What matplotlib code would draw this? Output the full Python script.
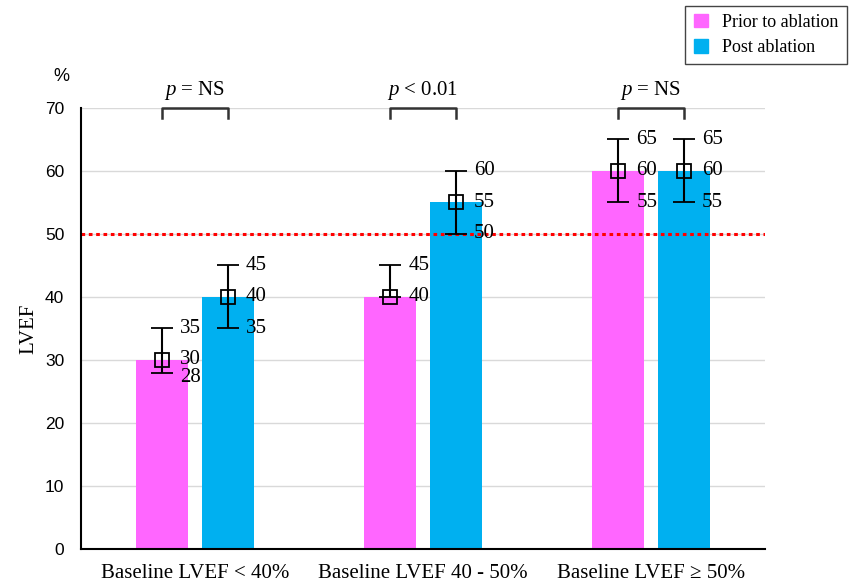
import numpy as np
import matplotlib.pyplot as plt
from matplotlib.patches import Patch

plt.rcParams['font.family'] = ['Liberation Serif', 'DejaVu Serif']
plt.rcParams['mathtext.fontset'] = 'custom'
plt.rcParams['mathtext.it'] = 'Liberation Serif:italic'
plt.rcParams['mathtext.rm'] = 'Liberation Serif'

# data
skupine = ["Baseline LVEF < 40%", "Baseline LVEF 40 - 50%", "Baseline LVEF \u2265 50%"]
pred    = [30, 40, 60]
pred_hi = [35, 45, 65]
pred_lo = [28, 40, 55]
po      = [40, 55, 60]
po_hi   = [45, 60, 65]
po_lo   = [35, 50, 55]
p_vrednosti = ["$p$ = NS", "$p$ < 0.01", "$p$ = NS"]

c_pred = "#FF66FF"
c_po   = "#00B0F0"

fig = plt.figure(figsize=(8.5, 5.83), dpi=100)
ax = fig.add_axes([0.0953, 0.0583, 0.8047, 0.7565])

x = np.arange(len(skupine))
w = 0.228
d = 0.144

ax.bar(x - d, pred, w, color=c_pred, zorder=2)
ax.bar(x + d, po, w, color=c_po, zorder=2)

for xs, v, hi, lo in [(x - d, pred, pred_hi, pred_lo), (x + d, po, po_hi, po_lo)]:
	v = np.array(v); hi = np.array(hi); lo = np.array(lo)
	ax.errorbar(xs, v, yerr=[v - lo, hi - v], fmt="s", mfc="none", mec="black",
		ms=10, mew=1.3, ecolor="black", elinewidth=1.5, capsize=8, capthick=1.5, zorder=3)
	for i in range(len(xs)):
		ax.text(xs[i] + 0.08, v[i], str(v[i]), fontsize=15, va="center", ha="left", zorder=4)
		ax.text(xs[i] + 0.08, hi[i], str(hi[i]), fontsize=15, va="center", ha="left", zorder=4)
		if lo[i] != v[i]:
			# premik, da se oznaki ne prekrivata
			yl = lo[i] - 0.8 if v[i] - lo[i] < 3 else lo[i]
			ax.text(xs[i] + 0.08, yl, str(lo[i]), fontsize=15, va="center", ha="left", zorder=4)

# referencna crta 50 %
ax.axhline(50, color="#FF0000", ls=(0, (1.2, 1.2)), lw=2.2, zorder=2.5)

# oklepaji s p-vrednostmi
for i in range(len(skupine)):
	ax.plot([x[i] - d, x[i] - d, x[i] + d, x[i] + d], [68.4, 70, 70, 68.4],
		color="#333333", lw=1.8, clip_on=False, zorder=4)
	ax.text(x[i], 71.0, p_vrednosti[i], fontsize=15, ha="center", va="bottom")

ax.set_xlim(-0.5, 2.5)
ax.set_ylim(0, 70)
ax.set_yticks(range(0, 71, 10))
ax.set_xticks(x)
ax.set_xticklabels(skupine, fontsize=15)
ax.tick_params(axis="x", length=0, pad=11)
ax.tick_params(axis="y", length=0, pad=12)
for t in ax.get_yticklabels():
	t.set_fontfamily("Liberation Sans")
	t.set_fontsize(12.5)
ax.grid(axis="y", color="#D9D9D9", lw=1, zorder=0)
ax.set_axisbelow(True)
for s in ["top", "right"]:
	ax.spines[s].set_visible(False)
ax.spines["left"].set_linewidth(1.5)
ax.spines["bottom"].set_linewidth(1.5)

ax.set_ylabel("LVEF", fontsize=15, labelpad=5)
fig.text(0.072, 0.868, "%", fontsize=13, family="Liberation Sans", ha="center", va="center")

fig.legend(handles=[Patch(color=c_pred, label="Prior to ablation"), Patch(color=c_po, label="Post ablation")],
	loc="upper right", bbox_to_anchor=(1.007, 1.006), fontsize=13, fancybox=False,
	edgecolor="#444444", framealpha=1, handlelength=0.8, handleheight=0.8, borderpad=0.45,
	labelspacing=0.45)

plt.savefig("out.png", dpi=100)
